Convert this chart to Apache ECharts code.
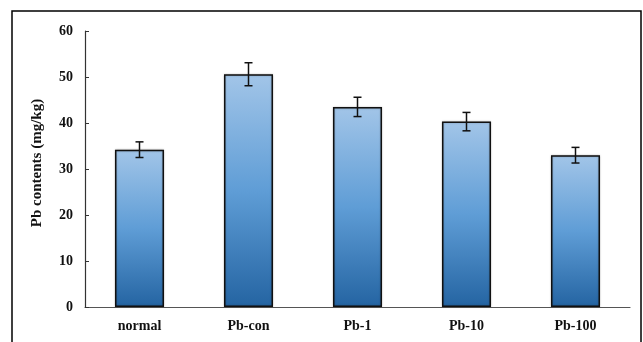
<!DOCTYPE html>
<html>
<head>
<meta charset="utf-8">
<script src="https://cdn.jsdelivr.net/npm/echarts@6/dist/echarts.min.js"></script>
<style>
html,body{margin:0;padding:0;background:#fff;}
#chart{width:643px;height:342px;}
</style>
</head>
<body>
<div id="chart"></div>
<script>
const categories = ['normal', 'Pb-con', 'Pb-1', 'Pb-10', 'Pb-100'];
const values = [34.2, 50.6, 43.5, 40.3, 33.0];
const errors = [1.7, 2.5, 2.1, 2.0, 1.7];
const yTicks = [0, 10, 20, 30, 40, 50, 60];
const yName = 'Pb contents (mg/kg)';

const chart = echarts.init(document.getElementById('chart'), null, {renderer: 'canvas'});
const font = '"Liberation Serif", "Times New Roman", serif';

const errData = categories.map((c, i) => [i, values[i] - errors[i], values[i] + errors[i]]);

chart.setOption({
  animation: false,
  backgroundColor: '#fff',
  grid: {left: 85, right: 13, top: 31, bottom: 35},
  graphic: [{
    type: 'polyline',
    shape: {points: [[12, 345], [12, 11], [641, 11], [641, 345]]},
    style: {stroke: '#000', lineWidth: 1.5, fill: null}
  }],
  xAxis: {
    type: 'category',
    data: categories,
    axisLine: {lineStyle: {color: '#555', width: 1.2}},
    axisTick: {inside: true, length: 4, lineStyle: {color: '#555'}},
    axisLabel: {fontFamily: font, fontWeight: 'bold', fontSize: 14, color: '#111', margin: 12}
  },
  yAxis: {
    type: 'value',
    min: yTicks[0],
    max: yTicks[yTicks.length - 1],
    interval: 10,
    name: yName,
    nameLocation: 'middle',
    nameGap: 40,
    nameTextStyle: {fontFamily: font, fontWeight: 'bold', fontSize: 15, color: '#111', padding: [0, 0, 0, 12]},
    axisLine: {show: true, lineStyle: {color: '#333', width: 1.2}},
    axisTick: {show: true, inside: true, length: 4, lineStyle: {color: '#333'}},
    splitLine: {show: false},
    axisLabel: {fontFamily: font, fontWeight: 'bold', fontSize: 14, color: '#111', margin: 12}
  },
  series: [{
    type: 'bar',
    data: values,
    barWidth: '45%',
    itemStyle: {
      color: new echarts.graphic.LinearGradient(0, 0, 0, 1, [
        {offset: 0, color: '#a2c5e8'},
        {offset: 0.5, color: '#5f9dd6'},
        {offset: 1, color: '#2464a2'}
      ]),
      borderColor: '#111',
      borderWidth: 1.5,
      shadowColor: 'rgba(0,0,0,0.25)',
      shadowBlur: 2
    }
  }, {
    type: 'custom',
    data: errData,
    z: 10,
    renderItem: function (params, api) {
      const x = api.value(0);
      const lo = api.coord([x, api.value(1)]);
      const hi = api.coord([x, api.value(2)]);
      const hw = 4;
      const st = {stroke: '#111', lineWidth: 1.5};
      return {
        type: 'group',
        children: [
          {type: 'line', shape: {x1: hi[0], y1: hi[1], x2: lo[0], y2: lo[1]}, style: st},
          {type: 'line', shape: {x1: hi[0] - hw, y1: hi[1], x2: hi[0] + hw, y2: hi[1]}, style: st},
          {type: 'line', shape: {x1: lo[0] - hw, y1: lo[1], x2: lo[0] + hw, y2: lo[1]}, style: st}
        ]
      };
    }
  }]
});
</script>
</body>
</html>
